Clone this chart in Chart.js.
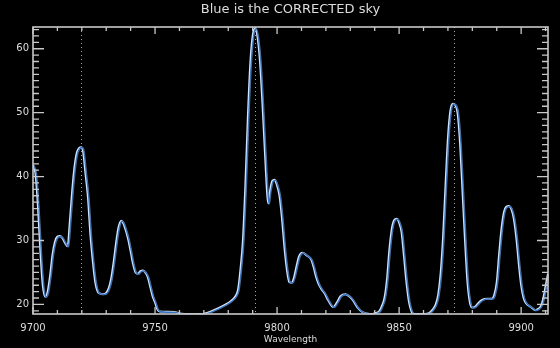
<!DOCTYPE html>
<html>
<head>
<meta charset="utf-8">
<script src="https://cdn.jsdelivr.net/npm/chart.js@4/dist/chart.umd.min.js"></script>
<style>
  html, body { margin: 0; padding: 0; background: #000; }
  #wrap { width: 560px; height: 348px; }
</style>
</head>
<body>
<div id="wrap"><canvas id="c" width="560" height="348"></canvas></div>
<script>
// Sky spectrum: wavelength (Angstrom) and counts
const wavelength = [
  9700, 9701, 9702, 9703, 9704, 9705, 9706, 9707, 9708, 9709,
  9710, 9711, 9712, 9713, 9714.2, 9715, 9716, 9717, 9718, 9719,
  9719.7, 9720.5, 9721.5, 9722.5, 9723.5, 9724.5, 9725.5, 9726.5, 9727.5, 9728.7,
  9730, 9731, 9732, 9733, 9734, 9735, 9736.2, 9737, 9738, 9739,
  9740, 9741, 9742, 9743, 9744, 9745, 9746, 9747, 9748, 9749,
  9750, 9751, 9752, 9755, 9758, 9760, 9762, 9766, 9770, 9773,
  9776, 9779, 9781, 9783, 9784, 9785, 9786, 9787, 9788, 9789,
  9790, 9791, 9792, 9793, 9794, 9795, 9796, 9796.4, 9797, 9798,
  9799, 9800, 9801, 9802, 9803, 9804, 9805, 9806, 9807, 9808,
  9809, 9810.4, 9812, 9814, 9815, 9816, 9817, 9818, 9819.5, 9821,
  9823, 9824.5, 9826, 9828, 9829.5, 9831, 9833, 9835, 9838, 9840,
  9842, 9843, 9844, 9845, 9846, 9847, 9848, 9849, 9850, 9851,
  9852, 9853, 9854, 9855, 9856, 9859, 9862, 9864, 9865, 9866,
  9867, 9868, 9869, 9870, 9871, 9872, 9873, 9874, 9875, 9876,
  9877, 9878, 9879, 9880, 9881, 9882, 9883, 9884, 9886, 9888,
  9889, 9890, 9891, 9892, 9893, 9894, 9895, 9896, 9897, 9898,
  9899, 9900, 9901, 9902, 9904, 9906, 9907, 9908, 9909, 9910,
  9911
];
const skyCounts = [
  41.8, 40.5, 35.5, 28.5, 23.0, 21.2, 22.0, 24.5, 27.8, 29.8,
  30.6, 30.7, 30.4, 29.7, 29.1, 32.5, 37.5, 41.5, 43.8, 44.5,
  44.6, 44.0, 40.5, 36.8, 31.0, 26.8, 23.5, 22.0, 21.7, 21.6,
  21.8, 22.5, 24.0, 26.5, 29.5, 32.0, 33.1, 32.7, 31.6, 30.2,
  28.3, 26.3, 25.0, 24.8, 25.2, 25.3, 25.0, 24.3, 22.8, 21.3,
  20.3, 19.2, 18.9, 18.85, 18.8, 18.6, 18.5, 18.45, 18.55, 18.9,
  19.4, 20.0, 20.5, 21.3, 22.3, 25.5, 30.0, 38.5, 49.0, 57.5,
  62.0, 63.2, 61.8, 58.0, 51.5, 44.0, 37.0, 35.8, 37.5, 39.3,
  39.5, 38.6, 37.0, 33.5, 29.0, 25.5, 23.5, 23.4, 24.3, 26.0,
  27.5, 28.1, 27.7, 27.0, 25.8, 24.3, 23.2, 22.5, 21.7, 20.6,
  19.6, 20.3, 21.3, 21.6, 21.3, 20.7, 19.5, 18.8, 18.5, 18.6,
  19.0, 19.8, 21.0, 23.8, 28.5, 31.8, 33.2, 33.4, 32.8, 31.3,
  27.5, 23.5, 20.5, 19.0, 18.5, 18.5, 18.6, 19.3, 20.0, 21.5,
  24.8, 30.5, 38.5, 46.0, 50.3, 51.4, 51.2, 49.8, 45.0, 37.5,
  30.0, 23.5, 20.3, 19.5, 19.6, 20.0, 20.4, 20.7, 20.9, 20.9,
  21.5, 23.5, 28.0, 32.0, 34.5, 35.3, 35.4, 34.9, 33.4, 30.5,
  26.5, 23.0, 21.0, 20.2, 19.6, 19.1, 19.3, 19.7, 20.8, 22.8,
  24.8
];
// Reference line positions (Angstrom)
const lineMarkers = [9719.7, 9791.0, 9872.4];
// Axis ranges and tick steps
const xRange = [9700, 9911];
const yRange = [18.5, 63.4];
const xMajorStep = 50, xMinorStep = 10;
const yMajorStep = 10, yMinorStep = 1;

const plotTitle = 'Blue is the CORRECTED sky';

const AXIS_COLOR = '#c8c8c8';
const TEXT_COLOR = '#dcdcdc';

const points = wavelength.map((w, i) => ({ x: w, y: skyCounts[i] }));

// Draws the boxed frame with inward major/minor ticks, dotted markers and the title
const framePlugin = {
  id: 'frame',
  beforeDatasetsDraw(chart) {
    const { ctx, chartArea: a, scales: { x } } = chart;
    ctx.save();
    ctx.strokeStyle = '#a8a8a8';
    ctx.lineWidth = 1;
    ctx.setLineDash([1, 3]);
    lineMarkers.forEach(w => {
      const px = Math.round(x.getPixelForValue(w)) + 0.5;
      ctx.beginPath();
      ctx.moveTo(px, a.top);
      ctx.lineTo(px, a.bottom);
      ctx.stroke();
    });
    ctx.restore();
  },
  // the corrected spectrum is stroked a hair to the right of the raw one
  beforeDatasetDraw(chart, args) {
    if (args.index === 1) {
      chart.ctx.save();
      chart.ctx.translate(1, 0.4);
    }
  },
  afterDatasetDraw(chart, args) {
    if (args.index === 1) chart.ctx.restore();
  },
  afterDraw(chart) {
    const { ctx, chartArea: a, scales: { x, y } } = chart;
    ctx.save();
    ctx.strokeStyle = AXIS_COLOR;
    ctx.lineWidth = 1.6;
    ctx.strokeRect(a.left, a.top, a.right - a.left, a.bottom - a.top);
    ctx.lineWidth = 1.3;
    ctx.beginPath();
    for (let v = xRange[0]; v <= xRange[1]; v += xMinorStep) {
      const px = x.getPixelForValue(v);
      const len = (v % xMajorStep === 0) ? 7 : 4;
      ctx.moveTo(px, a.bottom); ctx.lineTo(px, a.bottom - len);
      ctx.moveTo(px, a.top); ctx.lineTo(px, a.top + len);
    }
    for (let v = Math.ceil(yRange[0]); v <= yRange[1]; v += yMinorStep) {
      const py = y.getPixelForValue(v);
      const len = (v % yMajorStep === 0) ? 11 : 6;
      ctx.moveTo(a.left, py); ctx.lineTo(a.left + len, py);
      ctx.moveTo(a.right, py); ctx.lineTo(a.right - len, py);
    }
    ctx.stroke();

    // title centred over the plot box
    ctx.fillStyle = TEXT_COLOR;
    ctx.font = '13px "DejaVu Sans"';
    ctx.textAlign = 'center';
    ctx.textBaseline = 'middle';
    ctx.fillText(plotTitle, (a.left + a.right) / 2, 10);
    ctx.restore();
  }
};

new Chart(document.getElementById('c'), {
  type: 'line',
  data: {
    datasets: [
      {
        label: 'sky',
        data: points,
        order: 2,
        borderColor: '#e2e2e2',
        borderWidth: 2,
        pointRadius: 0,
        cubicInterpolationMode: 'monotone',
        fill: false
      },
      {
        label: 'corrected sky',
        data: points,
        order: 1,
        borderColor: '#2f72c8',
        borderWidth: 1.5,
        pointRadius: 0,
        cubicInterpolationMode: 'monotone',
        fill: false
      }
    ]
  },
  options: {
    responsive: false,
    animation: false,
    events: [],
    layout: { padding: { top: 27, right: 12, bottom: 0, left: 0 } },
    plugins: {
      legend: { display: false },
      tooltip: { enabled: false },
      title: { display: false }
    },
    scales: {
      x: {
        type: 'linear',
        min: xRange[0],
        max: xRange[1],
        grid: { display: false, drawTicks: false },
        border: { display: false },
        ticks: {
          stepSize: xMajorStep,
          includeBounds: false,
          autoSkip: false,
          maxRotation: 0,
          padding: 8,
          color: TEXT_COLOR,
          font: { family: 'DejaVu Sans', size: 10 },
          callback: v => String(v)
        },
        title: {
          display: true,
          text: 'Wavelength',
          color: TEXT_COLOR,
          font: { family: 'DejaVu Sans', size: 9 },
          padding: { top: 0, bottom: 3 }
        },
        afterFit(scale) { scale.height = 34; }
      },
      y: {
        type: 'linear',
        min: yRange[0],
        max: yRange[1],
        grid: { display: false, drawTicks: false },
        border: { display: false },
        ticks: {
          stepSize: yMajorStep,
          includeBounds: false,
          padding: 4,
          color: TEXT_COLOR,
          font: { family: 'DejaVu Sans', size: 10 },
          callback: v => String(v)
        },
        afterFit(scale) { scale.width = 33; }
      }
    }
  },
  plugins: [framePlugin, {
    id: 'bg',
    beforeDraw(chart) {
      const ctx = chart.ctx;
      ctx.save();
      ctx.fillStyle = '#000';
      ctx.fillRect(0, 0, chart.width, chart.height);
      ctx.restore();
    }
  }]
});
</script>
</body>
</html>
